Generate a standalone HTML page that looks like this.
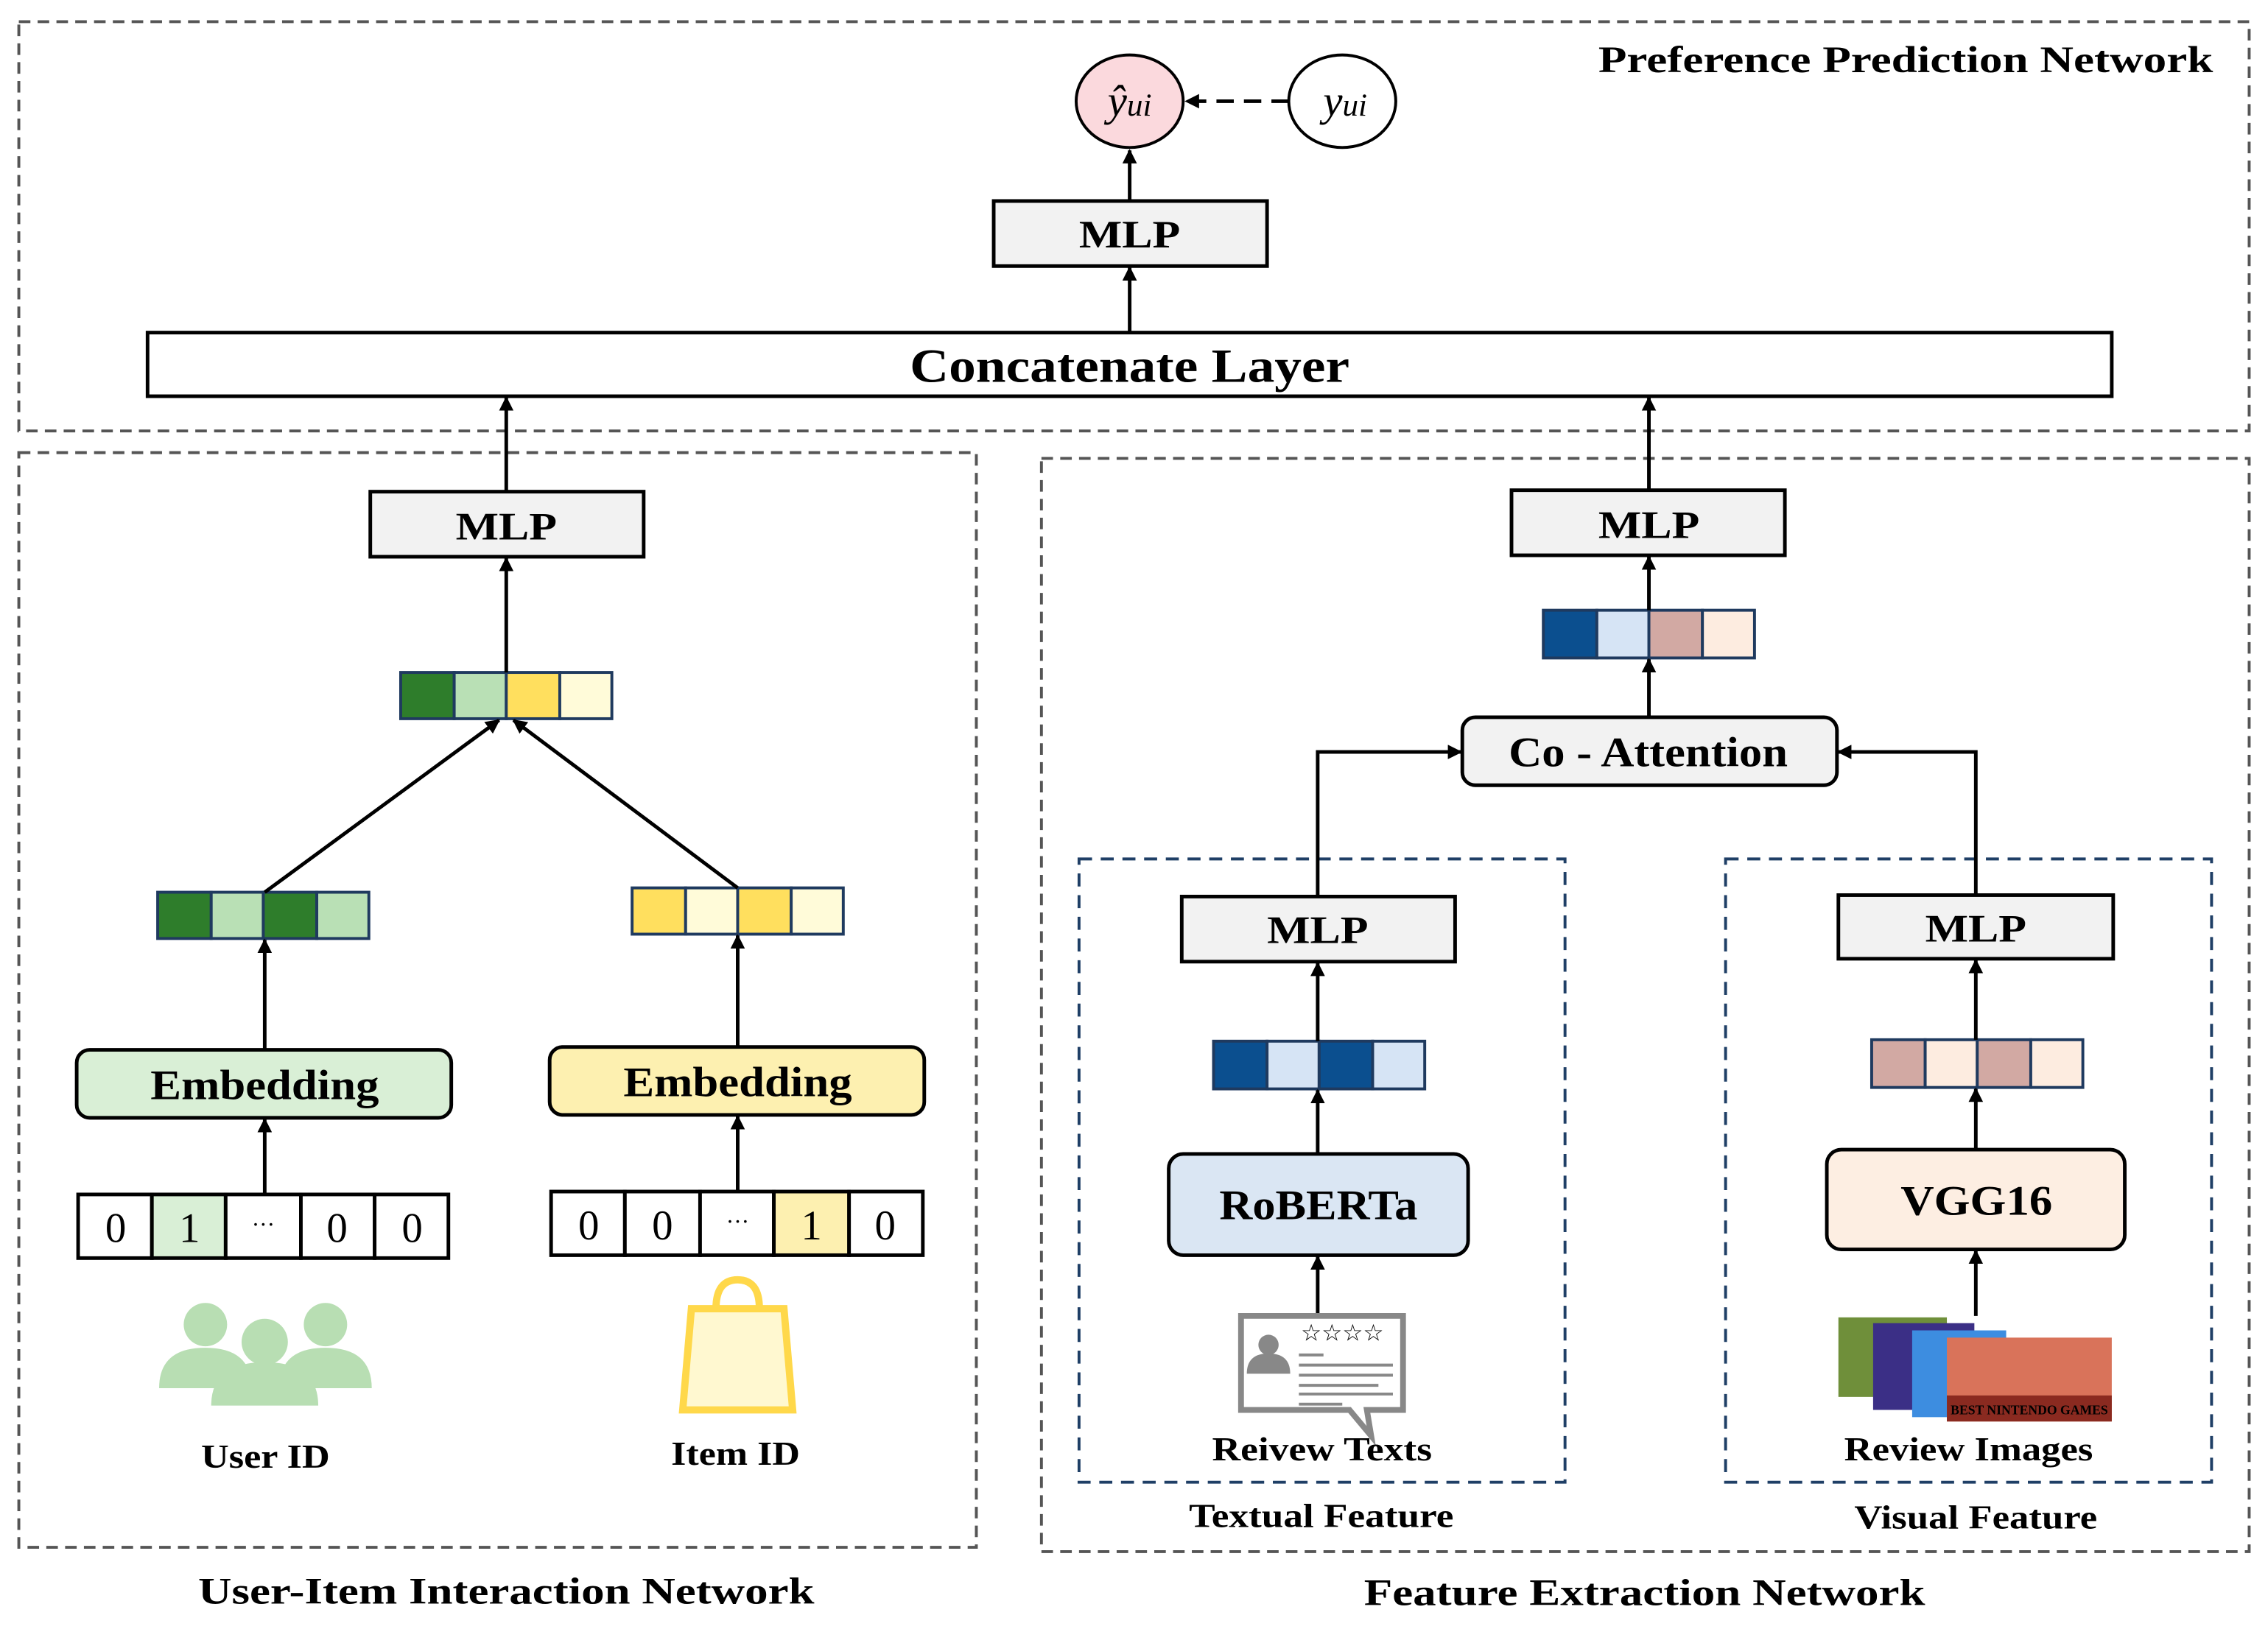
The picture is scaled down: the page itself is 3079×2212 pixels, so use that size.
<!DOCTYPE html>
<html><head><meta charset="utf-8"><style>
html,body{margin:0;padding:0;background:#fff;}
svg{display:block}
text{font-family:"Liberation Serif",serif;fill:#000}
</style></head><body>
<svg width="3079" height="2212" viewBox="0 0 1568 1126.5" xmlns="http://www.w3.org/2000/svg">
<defs>
<marker id="ar" markerWidth="10" markerHeight="10" refX="9" refY="5" orient="auto" markerUnits="userSpaceOnUse">
<path d="M0,0 L10,5 L0,10 z" fill="#000"/></marker>
</defs>
<g fill="none" stroke="#555" stroke-width="2" stroke-dasharray="8,5">
<rect x="13" y="15" width="1542" height="283"/>
<rect x="13" y="313" width="662" height="757"/>
<rect x="720" y="317" width="835" height="756"/>
</g>
<g fill="none" stroke="#1f3f66" stroke-width="2" stroke-dasharray="9,6">
<rect x="746" y="594" width="336" height="431"/>
<rect x="1193" y="594" width="336" height="431"/>
</g>
<text x="1105" y="50" font-size="26" font-weight="bold" textLength="425" lengthAdjust="spacingAndGlyphs">Preference Prediction Network</text>
<ellipse cx="781" cy="70" rx="37" ry="32" fill="#fbd9dd" stroke="#000" stroke-width="2"/>
<ellipse cx="928" cy="70" rx="37" ry="32" fill="#fff" stroke="#000" stroke-width="2"/>
<text x="781" y="80" font-size="30" font-style="italic" text-anchor="middle">ŷ<tspan font-size="22">ui</tspan></text>
<text x="930" y="80" font-size="30" font-style="italic" text-anchor="middle">y<tspan font-size="22">ui</tspan></text>
<line x1="891" y1="70" x2="820" y2="70" stroke="#000" stroke-width="2.5" stroke-dasharray="12,7" marker-end="url(#ar)"/>
<g stroke="#000" stroke-width="2.5" fill="#f2f2f2">
<rect x="687" y="139" width="189" height="45"/>
<rect x="102" y="230" width="1358" height="44" fill="#fff"/>
<rect x="256" y="340" width="189" height="45"/>
<rect x="1045" y="339" width="189" height="45"/>
<rect x="817" y="620" width="189" height="45"/>
<rect x="1271" y="619" width="190" height="44"/>
<rect x="53" y="726" width="259" height="47" rx="9" fill="#d9efd6"/>
<rect x="380" y="724" width="259" height="47" rx="9" fill="#fdf0b0"/>
<rect x="1011" y="496" width="259" height="47" rx="9" fill="#f2f2f2"/>
<rect x="808" y="798" width="207" height="70" rx="10" fill="#dae6f3"/>
<rect x="1263" y="795" width="206" height="69" rx="10" fill="#fdeee2"/>
</g>
<g font-size="27" font-weight="bold" lengthAdjust="spacingAndGlyphs">
<text x="746" y="171" textLength="70" lengthAdjust="spacingAndGlyphs">MLP</text>
<text x="629" y="264" font-size="33" textLength="304" lengthAdjust="spacingAndGlyphs">Concatenate Layer</text>
<text x="315" y="373" textLength="70" lengthAdjust="spacingAndGlyphs">MLP</text>
<text x="1105" y="372" textLength="70" lengthAdjust="spacingAndGlyphs">MLP</text>
<text x="876" y="652" textLength="70" lengthAdjust="spacingAndGlyphs">MLP</text>
<text x="1331" y="651" textLength="70" lengthAdjust="spacingAndGlyphs">MLP</text>
<text x="104" y="760" font-size="29" textLength="158" lengthAdjust="spacingAndGlyphs">Embedding</text>
<text x="431" y="758" font-size="29" textLength="158" lengthAdjust="spacingAndGlyphs">Embedding</text>
<text x="1043" y="530" font-size="29" textLength="193" lengthAdjust="spacingAndGlyphs">Co - Attention</text>
<text x="843" y="843" font-size="29" textLength="137" lengthAdjust="spacingAndGlyphs">RoBERTa</text>
<text x="1314" y="840" font-size="29" textLength="105" lengthAdjust="spacingAndGlyphs">VGG16</text>
</g>
<g stroke="#1f3a5f" stroke-width="2">
<rect x="277" y="465" width="37" height="32" fill="#2e7d2b"/><rect x="314" y="465" width="36" height="32" fill="#b9e0b5"/><rect x="350" y="465" width="37" height="32" fill="#ffdf5e"/><rect x="387" y="465" width="36" height="32" fill="#fffbd9"/>
<rect x="109" y="617" width="37" height="32" fill="#2e7d2b"/><rect x="146" y="617" width="36" height="32" fill="#b9e0b5"/><rect x="182" y="617" width="37" height="32" fill="#2e7d2b"/><rect x="219" y="617" width="36" height="32" fill="#b9e0b5"/>
<rect x="437" y="614" width="37" height="32" fill="#ffdf5e"/><rect x="474" y="614" width="36" height="32" fill="#fffbd9"/><rect x="510" y="614" width="37" height="32" fill="#ffdf5e"/><rect x="547" y="614" width="36" height="32" fill="#fffbd9"/>
<rect x="1067" y="422" width="37" height="33" fill="#0b4f8f"/><rect x="1104" y="422" width="36" height="33" fill="#d6e4f5"/><rect x="1140" y="422" width="37" height="33" fill="#d2a9a3"/><rect x="1177" y="422" width="36" height="33" fill="#fdece0"/>
<rect x="839" y="720" width="37" height="33" fill="#0b4f8f"/><rect x="876" y="720" width="36" height="33" fill="#d6e4f5"/><rect x="912" y="720" width="37" height="33" fill="#0b4f8f"/><rect x="949" y="720" width="36" height="33" fill="#d6e4f5"/>
<rect x="1294" y="719" width="37" height="33" fill="#d2a9a3"/><rect x="1331" y="719" width="36" height="33" fill="#fdece0"/><rect x="1367" y="719" width="37" height="33" fill="#d2a9a3"/><rect x="1404" y="719" width="36" height="33" fill="#fdece0"/>
</g>
<g stroke="#000" stroke-width="2.5" fill="#fff">
<rect x="54" y="826" width="51" height="44"/><rect x="105" y="826" width="51" height="44" fill="#d9efd6"/><rect x="156" y="826" width="52" height="44"/><rect x="208" y="826" width="51" height="44"/><rect x="259" y="826" width="51" height="44"/>
<rect x="381" y="824" width="51" height="44"/><rect x="432" y="824" width="52" height="44"/><rect x="484" y="824" width="51" height="44"/><rect x="535" y="824" width="52" height="44" fill="#fdf0b0"/><rect x="587" y="824" width="51" height="44"/>
</g>
<g font-size="29" text-anchor="middle">
<text x="80" y="859">0</text><text x="131" y="859">1</text><text x="182" y="852" font-size="16">···</text><text x="233" y="859">0</text><text x="285" y="859">0</text>
<text x="407" y="857">0</text><text x="458" y="857">0</text><text x="510" y="850" font-size="16">···</text><text x="561" y="857">1</text><text x="612" y="857">0</text>
</g>
<g stroke="#000" stroke-width="2.5" fill="none" marker-end="url(#ar)">
<line x1="781" y1="139" x2="781" y2="104"/>
<line x1="781" y1="230" x2="781" y2="185"/>
<line x1="350" y1="340" x2="350" y2="275"/>
<line x1="1140" y1="339" x2="1140" y2="275"/>
<line x1="350" y1="465" x2="350" y2="386"/>
<line x1="1140" y1="422" x2="1140" y2="385"/>
<line x1="1140" y1="496" x2="1140" y2="456"/>
<line x1="183" y1="617" x2="345" y2="498"/>
<line x1="510" y1="614" x2="355" y2="498"/>
<line x1="183" y1="726" x2="183" y2="650"/>
<line x1="510" y1="724" x2="510" y2="647"/>
<line x1="183" y1="826" x2="183" y2="774"/>
<line x1="510" y1="824" x2="510" y2="772"/>
<polyline points="911,620 911,520 1010,520"/>
<polyline points="1366,619 1366,520 1271,520"/>
<line x1="911" y1="720" x2="911" y2="666"/>
<line x1="1366" y1="719" x2="1366" y2="664"/>
<line x1="911" y1="798" x2="911" y2="754"/>
<line x1="1366" y1="795" x2="1366" y2="753"/>
<line x1="911" y1="908" x2="911" y2="869"/>
<line x1="1366" y1="910" x2="1366" y2="865"/>
</g>
<g fill="#b8deb3">
<circle cx="142" cy="916" r="15"/><circle cx="225" cy="916" r="15"/><circle cx="183" cy="928" r="16"/>
<path d="M110,960 q0,-28 32,-28 q32,0 32,28 z"/><path d="M193,960 q0,-28 32,-28 q32,0 32,28 z"/>
<path d="M146,972 q0,-30 37,-30 q37,0 37,30 z"/>
</g>
<g fill="none" stroke="#ffd84a" stroke-width="5">
<path d="M478,905 L542,905 L548,975 L472,975 z" fill="#fff8d0"/>
<path d="M495,905 q0,-20 15,-20 q15,0 15,20"/>
</g>
<g stroke="#888" fill="none" stroke-width="4">
<path d="M858,910 h112 v65 h-25 l3,18 l-15,-18 h-75 z" fill="#fff"/>
</g>
<g fill="#888"><circle cx="877" cy="930" r="7"/><path d="M862,950 q0,-14 15,-14 q15,0 15,14 z"/></g>
<g stroke="#888" stroke-width="2"><line x1="898" y1="937" x2="915" y2="937"/><line x1="898" y1="944" x2="963" y2="944"/><line x1="898" y1="951" x2="963" y2="951"/><line x1="898" y1="958" x2="953" y2="958"/><line x1="898" y1="964" x2="963" y2="964"/><line x1="898" y1="971" x2="928" y2="971"/></g>
<text x="928" y="927" font-size="16" fill="#888" text-anchor="middle">☆☆☆☆</text>
<rect x="1271" y="911" width="75" height="55" fill="#6f8f3a"/>
<rect x="1295" y="915" width="70" height="60" fill="#3b2f86"/>
<rect x="1322" y="920" width="65" height="60" fill="#3d8de0"/>
<rect x="1346" y="925" width="114" height="58" fill="#d9735a"/>
<rect x="1346" y="965" width="114" height="18" fill="#8a2a20"/>
<text x="1403" y="978" font-size="9" fill="#ffd84a" text-anchor="middle" font-family="Liberation Sans" font-weight="bold">BEST NINTENDO GAMES</text>
<g font-size="23" font-weight="bold">
<text x="139" y="1015" textLength="89" lengthAdjust="spacingAndGlyphs">User ID</text>
<text x="464" y="1013" textLength="89" lengthAdjust="spacingAndGlyphs">Item ID</text>
<text x="838" y="1010" textLength="152" lengthAdjust="spacingAndGlyphs">Reivew Texts</text>
<text x="1275" y="1010" textLength="172" lengthAdjust="spacingAndGlyphs">Review Images</text>
<text x="822" y="1056" textLength="183" lengthAdjust="spacingAndGlyphs">Textual Feature</text>
<text x="1282" y="1057" textLength="168" lengthAdjust="spacingAndGlyphs">Visual Feature</text>
<text x="137" y="1109" font-size="26" textLength="426" lengthAdjust="spacingAndGlyphs">User-Item Interaction Network</text>
<text x="943" y="1110" font-size="26" textLength="388" lengthAdjust="spacingAndGlyphs">Feature Extraction Network</text>
</g>
</svg>
</body></html>
